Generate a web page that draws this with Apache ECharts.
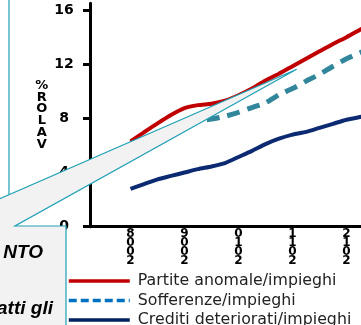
<!DOCTYPE html>
<html>
<head>
<meta charset="utf-8">
<script src="https://cdn.jsdelivr.net/npm/echarts@6/dist/echarts.min.js"></script>
<style>
  html, body { margin: 0; padding: 0; background: #fff; overflow: hidden; }
  #chart { width: 400px; height: 360px; }
</style>
</head>
<body>
<div id="chart"></div>
<script>
// trimestri, dal 2007 T2 al 2012 T3 (i primi tre senza dati)
const quarters = [
  '2007 T2', '2007 T3', '2007 T4',
  '2008 T1', '2008 T2', '2008 T3', '2008 T4',
  '2009 T1', '2009 T2', '2009 T3', '2009 T4',
  '2010 T1', '2010 T2', '2010 T3', '2010 T4',
  '2011 T1', '2011 T2', '2011 T3', '2011 T4',
  '2012 T1', '2012 T2', '2012 T3'
]
const partiteAnomale = [null, null, null,
  6.3, 6.97, 7.63, 8.25, 8.76, 8.98, 9.08, 9.3,
  9.7, 10.2, 10.8, 11.3, 11.85, 12.4, 12.95, 13.5,
  14.0, 14.55, 15.1]
const sofferenze = [null, null, null,
  5.4, 6.0, 6.55, 7.05, 7.5, 7.8, 7.95, 8.15,
  8.45, 8.8, 9.15, 9.75, 10.2, 10.75, 11.25, 11.85,
  12.4, 12.85, 13.3]
const creditiDeteriorati = [null, null, null,
  2.8, 3.15, 3.5, 3.75, 4.0, 4.25, 4.45, 4.7,
  5.15, 5.6, 6.1, 6.5, 6.8, 7.0, 7.3, 7.6,
  7.9, 8.1, 8.3]
const seriesNames = ['Partite anomale/impieghi', 'Sofferenze/impieghi', 'Crediti deteriorati/impieghi']
const yTickValues = [0, 4, 8, 12, 16]

const teal = '#1fa0b5'
const chart = echarts.init(document.getElementById('chart'), null, { renderer: 'canvas' })

chart.setOption({
  animation: false,
  grid: { left: 90, top: 3.3, width: 21 * 13.5, height: 223.4 },
  xAxis: {
    type: 'category',
    data: quarters,
    boundaryGap: false,
    axisLine: { lineStyle: { color: '#000', width: 3 } },
    axisTick: { show: false },
    axisLabel: {
      interval: (idx, val) => val.endsWith('T1'),
      formatter: (val) => val.slice(0, 4).split('').reverse().join('\n'),
      fontFamily: 'DejaVu Sans',
      fontWeight: 'bold',
      fontSize: 12,
      lineHeight: 9,
      color: '#000',
      margin: 3
    },
    splitLine: { show: false }
  },
  yAxis: {
    type: 'value',
    min: 0,
    max: 16.5,
    name: '%\nR\nO\nL\nA\nV',
    nameLocation: 'middle',
    nameRotate: 0,
    nameGap: 43,
    nameTextStyle: {
      align: 'center',
      fontFamily: 'DejaVu Sans',
      fontWeight: 'bold',
      fontSize: 13,
      lineHeight: 11.8,
      color: '#000',
      padding: [6, 0, 0, 0]
    },
    axisLine: { show: true, lineStyle: { color: '#000', width: 3 } },
    axisTick: { show: true, length: 7, customValues: yTickValues, lineStyle: { color: '#000', width: 3 } },
    axisLabel: {
      customValues: yTickValues,
      align: 'center',
      fontFamily: 'DejaVu Sans',
      fontWeight: 'bold',
      fontSize: 14,
      color: '#000',
      margin: 26
    },
    splitLine: { show: false }
  },
  legend: {
    orient: 'vertical',
    left: 67,
    top: 273.1,
    itemWidth: 61,
    itemHeight: 12,
    itemGap: 3.4,
    padding: 0,
    itemStyle: { opacity: 0 },
    textStyle: {
      fontFamily: 'DejaVu Sans',
      fontSize: 15.8,
      color: '#222',
      padding: [0, 0, 0, 3]
    },
    data: [
      { name: seriesNames[0], lineStyle: { color: '#c00000', width: 3.5, type: 'solid' } },
      { name: seriesNames[1], lineStyle: { color: '#0070c0', width: 3.5, type: [8, 4] } },
      { name: seriesNames[2], lineStyle: { color: '#002060', width: 3.5, type: 'solid' } }
    ]
  },
  series: [
    {
      name: seriesNames[0],
      type: 'line',
      data: partiteAnomale,
      symbol: 'none',
      smooth: 0.2,
      lineStyle: { color: '#c00000', width: 4 },
      itemStyle: { color: '#c00000' }
    },
    {
      name: seriesNames[1],
      type: 'line',
      data: sofferenze,
      symbol: 'none',
      smooth: 0.2,
      lineStyle: { color: '#31869b', width: 5, type: [13, 8] },
      itemStyle: { color: '#31869b' }
    },
    {
      name: seriesNames[2],
      type: 'line',
      data: creditiDeteriorati,
      symbol: 'none',
      smooth: 0.2,
      lineStyle: { color: '#0c2a72', width: 4 },
      itemStyle: { color: '#0c2a72' }
    }
  ],
  graphic: [
    {
      type: 'line',
      z: 100,
      shape: { x1: 9, y1: -5, x2: 9, y2: 194.7 },
      style: { stroke: teal, lineWidth: 1.2 }
    },
    {
      type: 'polygon',
      z: 100,
      shape: {
        points: [[-5, 200.8], [296.7, 69.3], [15, 226], [66, 226], [66, 380], [-5, 380]]
      },
      style: { fill: '#f2f2f2', stroke: teal, lineWidth: 1.2 }
    },
    {
      type: 'text',
      z: 101,
      style: {
        text: 'NTO', x: 43, y: 253, align: 'right', verticalAlign: 'middle',
        font: 'italic bold 19px "Liberation Sans"', fill: '#000'
      }
    },
    {
      type: 'text',
      z: 101,
      style: {
        text: 'atti gli', x: 53, y: 309, align: 'right', verticalAlign: 'middle',
        font: 'italic bold 19px "Liberation Sans"', fill: '#000'
      }
    }
  ]
})
</script>
</body>
</html>
